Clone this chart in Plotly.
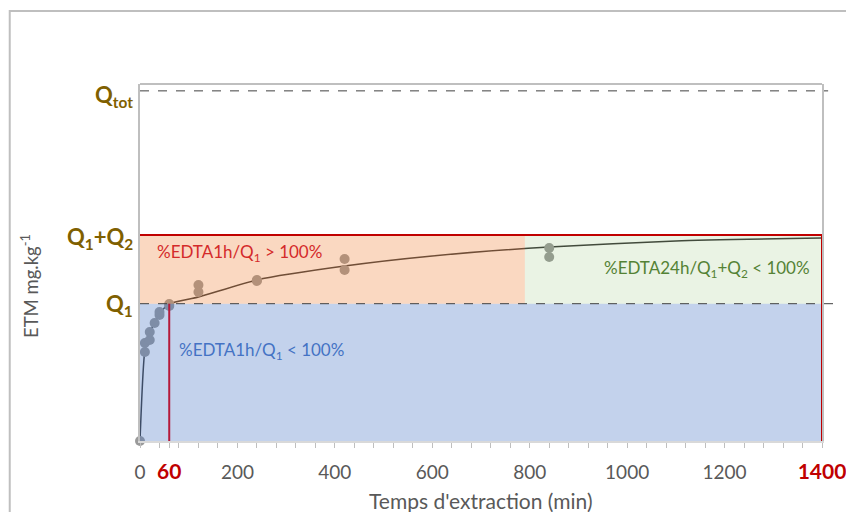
import plotly.graph_objects as go

# mesures (temps en min, ETM en unités relatives, Q1 = 100)
t_points = [0, 10, 10, 20, 20, 30, 40, 40, 60, 60, 120, 120, 240, 240, 420, 420, 840, 840]
etm_points = [0, 64.8, 71.4, 73.6, 79.4, 85.9, 91.8, 94.0, 99.8, 98.3,
              113.6, 108.5, 117.3, 116.5, 132.5, 124.5, 140.6, 134.0]

# courbe d'ajustement
t_fit = [0, 10, 20, 40, 60, 120, 240, 420, 600, 840, 1100, 1400]
etm_fit = [0, 66.0, 78.7, 92.5, 99.8, 104.9, 117.3, 127.4, 134.7, 141.3, 145.7, 147.8]

q1 = 100
q1_q2 = 150
q_tot = 255
t_1h = 60
t_24h = 1400
t_split = 790

tick_vals = [0, 60, 200, 400, 600, 800, 1000, 1200, 1400]
tick_text = [
    "0",
    "<b><span style='color:#c00000;font-size:21px'>60</span></b>",
    "200", "400", "600", "800", "1000", "1200",
    "<b><span style='color:#c00000;font-size:21px'>1400</span></b>",
]

FONT = "Lato, 'Open Sans', sans-serif"
GREY_TXT = "#595959"
Q_COLOR = "#7f6000"

fig = go.Figure()
fig.add_trace(
    go.Scatter(
        x=t_fit, y=etm_fit, mode="lines",
        line={"color": "#3a3a3a", "width": 1.5, "shape": "spline", "smoothing": 0.6},
        hoverinfo="skip", showlegend=False, cliponaxis=False,
    )
)
fig.add_trace(
    go.Scatter(
        x=t_points, y=etm_points, mode="markers",
        marker={"color": "#9a9a9a", "size": 10},
        showlegend=False, cliponaxis=False,
    )
)

# zones colorées (par-dessus les points, semi-transparentes)
zones = [
    (0, t_24h, 0, q1, "rgba(68,114,196,0.32)"),
    (0, t_split, q1, q1_q2, "rgba(237,125,49,0.30)"),
    (t_split, t_24h, q1, q1_q2, "rgba(112,173,71,0.15)"),
]
for x0, x1, y0, y1, color in zones:
    fig.add_shape(type="rect", x0=x0, x1=x1, y0=y0, y1=y1, xref="x", yref="y",
                  fillcolor=color, line={"width": 0}, layer="above")

# lignes pointillées Q1 et Qtot
fig.add_shape(type="line", xref="paper", yref="y", x0=0, x1=1.019, y0=q1, y1=q1,
              line={"color": "#404040", "width": 1, "dash": "dash"}, layer="above")
fig.add_shape(type="line", xref="paper", yref="y", x0=0, x1=1.009, y0=q_tot, y1=q_tot,
              line={"color": "#404040", "width": 1, "dash": "dash"}, layer="above")

# contours rouges
fig.add_shape(type="line", x0=0, x1=t_24h, y0=q1_q2, y1=q1_q2,
              line={"color": "#c00000", "width": 2}, layer="above")
fig.add_shape(type="line", x0=t_24h, x1=t_24h, y0=-3.6, y1=q1_q2,
              line={"color": "#c00000", "width": 2}, layer="above")
fig.add_shape(type="line", x0=t_1h, x1=t_1h, y0=-3.6, y1=q1,
              line={"color": "#b5193a", "width": 2}, layer="above")

# cadre
fig.add_shape(type="line", xref="paper", yref="paper", x0=0, x1=1, y0=1, y1=1,
              line={"color": "#bfbfbf", "width": 2}, layer="above")
fig.add_shape(type="path", xref="paper", yref="paper",
              path="M -0.191,-0.4 L -0.191,1.2045 L 1.2,1.2045",
              line={"color": "#bfbfbf", "width": 2}, layer="above")

# étiquettes Q
for label, yv in [("Q<sub>tot</sub>", q_tot - 4), ("Q<sub>1</sub>+Q<sub>2</sub>", q1_q2 - 2),
                  ("Q<sub>1</sub>", q1 - 1)]:
    fig.add_annotation(x=-0.008, xref="paper", y=yv, yref="y", text=f"<b>{label}</b>",
                       showarrow=False, xanchor="right", yanchor="middle",
                       font={"family": FONT, "size": 22, "color": Q_COLOR})

fig.add_annotation(x=31, y=136.9, text="%EDTA1h/Q<sub>1</sub> &gt; 100%", showarrow=False,
                   xanchor="left", yanchor="middle",
                   font={"family": FONT, "size": 17, "color": "#d42a2a"})
fig.add_annotation(x=1380, y=125.3, text="%EDTA24h/Q<sub>1</sub>+Q<sub>2</sub> &lt; 100%",
                   showarrow=False, xanchor="right", yanchor="middle",
                   font={"family": FONT, "size": 17, "color": "#548235"})
fig.add_annotation(x=76, y=65.5, text="%EDTA1h/Q<sub>1</sub> &lt; 100%", showarrow=False,
                   xanchor="left", yanchor="middle",
                   font={"family": FONT, "size": 17, "color": "#4472c4"})

# titres des axes
fig.add_annotation(x=-0.161, xref="paper", y=113, yref="y", text="ETM mg.kg<sup>-1</sup>",
                   textangle=-90, showarrow=False, xanchor="center", yanchor="middle",
                   font={"family": FONT, "size": 18.5, "color": GREY_TXT})
fig.add_annotation(x=0.5, xref="paper", y=-0.166, yref="paper", text="Temps d'extraction (min)",
                   showarrow=False, xanchor="center", yanchor="middle",
                   font={"family": FONT, "size": 21, "color": GREY_TXT})

fig.update_xaxes(
    range=[0, 1400], tickvals=tick_vals, ticktext=tick_text,
    showline=True, linecolor="#d9d9d9", linewidth=1.5,
    ticks="outside", ticklen=5, tickcolor="#bfbfbf",
    minor={"dtick": 40, "ticks": "outside", "ticklen": 5, "tickcolor": "#bfbfbf"},
    showgrid=False, zeroline=False, ticklabelstandoff=8,
    automargin=False, ticklabeloverflow="allow",
    tickfont={"family": FONT, "size": 19, "color": GREY_TXT},
)
fig.update_yaxes(
    range=[0, 260], showticklabels=False, ticks="", showgrid=False, zeroline=False,
    showline=True, mirror=True, linecolor="#bfbfbf", linewidth=2, automargin=False,
)
# la page ajoute une marge de 8 px autour de la figure : 838 + 16 = 854, 504 + 16 = 520
fig.update_layout(
    width=838, height=504,
    margin={"l": 132, "r": 24, "t": 76, "b": 71},
    plot_bgcolor="white", paper_bgcolor="white",
    font={"family": FONT},
)
fig.write_html("out.html")
